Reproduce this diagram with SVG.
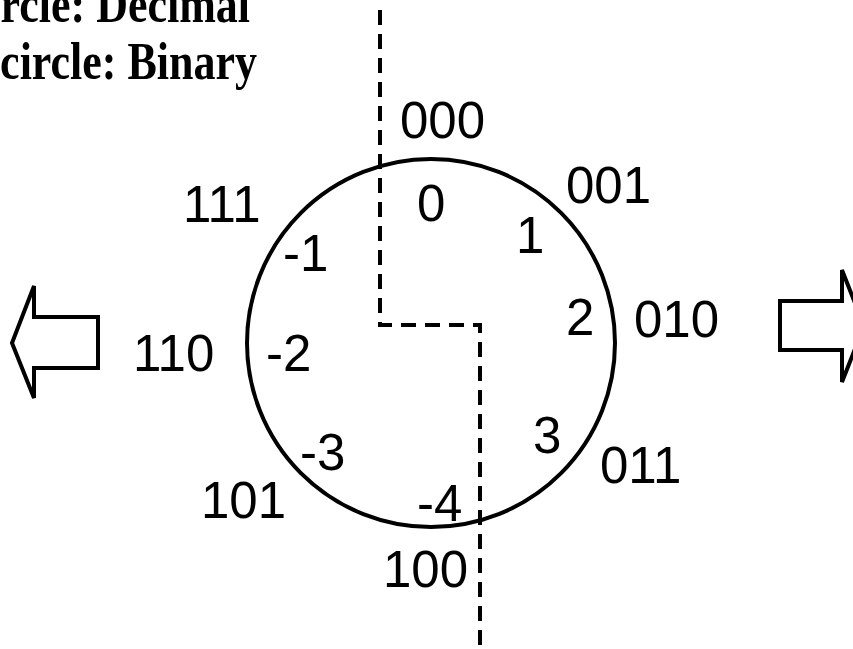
<svg xmlns="http://www.w3.org/2000/svg" width="853" height="649" viewBox="0 0 853 649">
<style>
.lbl{font-family:"Liberation Sans",Arial,sans-serif;font-size:51px;fill:#000}
.ttl{font-family:"Liberation Serif","Times New Roman",serif;font-size:44px;font-weight:bold;fill:#000;text-anchor:end}
.shape{fill:#fff;stroke:#000;stroke-width:4}
.ring{fill:none;stroke:#000;stroke-width:4}
.dash{fill:none;stroke:#000;stroke-width:4;stroke-dasharray:15 9}
</style>
<rect width="853" height="649" fill="#fff"/>
<g id="title">
<text class="ttl" transform="translate(250 22) scale(1 1.2)">rcle: Decimal</text>
<text class="ttl" transform="translate(257 79) scale(1 1.2)">circle: Binary</text>
</g>
<g id="left-arrow"><polygon class="shape" points="12,343 34,286 34,317 98,317 98,368 34,368 34,398"/></g>
<g id="right-arrow"><polygon class="shape" points="864,326 842,270 842,301 780,301 780,350 842,350 842,382"/></g>
<g id="ring"><circle class="ring" cx="431" cy="343" r="184"/></g>
<g id="connectors"><path class="dash" d="M380,10 V325 H480 V649"/></g>
<g id="binary">
<text class="lbl" x="400" y="138">000</text>
<text class="lbl" x="566" y="203">001</text>
<text class="lbl" x="634" y="337">010</text>
<text class="lbl" x="600" y="483">011</text>
<text class="lbl" x="383" y="587">100</text>
<text class="lbl" x="201" y="518">101</text>
<text class="lbl" x="133" y="371">110</text>
<text class="lbl" x="183" y="222">111</text>
</g>
<g id="decimal">
<text class="lbl" x="417" y="221">0</text>
<text class="lbl" x="516" y="253">1</text>
<text class="lbl" x="566" y="335">2</text>
<text class="lbl" x="533" y="453">3</text>
<text class="lbl" x="417" y="521">-4</text>
<text class="lbl" x="300" y="470">-3</text>
<text class="lbl" x="266" y="371">-2</text>
<text class="lbl" x="283" y="271">-1</text>
</g>
</svg>
